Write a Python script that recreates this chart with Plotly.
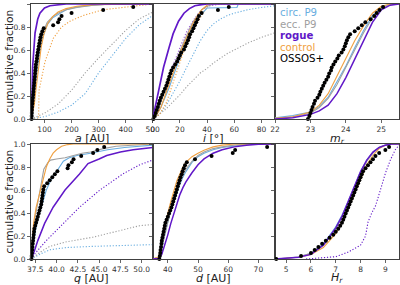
import numpy as np
import plotly.graph_objects as go

# ---------------- data ----------------
N_OBS = 38
# OSSOS+ sample values
ossos_a = [52, 52.5, 53, 53.5, 54, 55, 56, 57, 58, 59, 60, 61, 62, 63, 64, 65, 66, 67, 68, 70,
           72, 73, 75, 77, 79, 81, 83, 85, 88, 92, 97, 132, 150, 155, 163, 200, 317, 428]
ossos_i = [0.5, 1.5, 2.2, 3, 3.8, 4.5, 5.2, 6, 7, 8, 9, 10, 10.8, 11.5, 12.2, 13, 13.8, 15, 16.5, 18,
           19, 20, 21, 23, 24, 25, 26, 26.8, 27.5, 29, 30, 31, 32, 33, 34, 36, 48, 56]
ossos_m = [22.93, 22.97, 23.0, 23.03, 23.06, 23.1, 23.13, 23.2, 23.25, 23.28, 23.32, 23.36, 23.4,
           23.45, 23.5, 23.53, 23.58, 23.6, 23.65, 23.7, 23.76, 23.8, 23.88, 23.93, 23.97, 24.0,
           24.03, 24.07, 24.12, 24.25, 24.35, 24.45, 24.55, 24.7, 24.8, 24.87, 24.95, 25.05]
ossos_q = [37.05, 37.08, 37.11, 37.14, 37.17, 37.2, 37.24, 37.28, 37.32, 37.36, 37.4, 37.5, 37.6,
           37.7, 37.8, 37.9, 38.0, 38.1, 38.2, 38.25, 38.3, 38.35, 38.4, 38.45, 38.55, 38.9, 39.2,
           39.5, 39.8, 40.1, 41.3, 41.4, 41.8, 42.0, 42.9, 44.3, 44.8, 45.6]
ossos_d = [37.2, 37.35, 37.5, 37.6, 37.75, 37.9, 38.0, 38.2, 38.4, 38.6, 38.8, 39.0, 39.2, 39.6,
           40.0, 40.4, 40.8, 41.2, 41.5, 41.8, 42.1, 42.4, 42.7, 43.0, 43.3, 43.6, 43.9, 44.2,
           44.6, 44.9, 45.3, 45.7, 46.3, 49.0, 54.5, 61.5, 62.3, 72.9]
ossos_H = [4.6, 5.6, 6.0, 6.15, 6.3, 6.45, 6.6, 6.75, 6.9, 7.0, 7.1, 7.18, 7.25, 7.3, 7.35, 7.4,
           7.45, 7.5, 7.55, 7.6, 7.65, 7.7, 7.75, 7.8, 7.85, 7.9, 7.95, 8.0, 8.05, 8.1, 8.2, 8.3,
           8.4, 8.5, 8.6, 8.75, 9.0, 9.15]

# ---- panel a ----
a_rogue_x = [50, 53, 56, 60, 65, 75, 83, 100, 120, 180, 500]
a_rogue_y = [0, 0.1, 0.45, 0.62, 0.75, 0.87, 0.92, 0.965, 0.985, 1.0, 1.0]
a_grid = [50, 55, 60, 65, 70, 77, 85, 95, 110, 130, 150, 180, 220, 280, 350, 500]
a_circ_y = [0, 0.08, 0.17, 0.27, 0.38, 0.5, 0.62, 0.72, 0.82, 0.88, 0.91, 0.95, 0.975, 0.99, 1.0, 1.0]
a_ecc_y = [0, 0.1, 0.2, 0.3, 0.42, 0.55, 0.66, 0.76, 0.84, 0.89, 0.92, 0.95, 0.97, 0.99, 1, 1]
a_ctrl_x = [50, 56, 62, 68, 74, 80, 88, 98, 112, 130, 150, 180, 220, 280, 500]
a_ctrl_y = [0, 0.05, 0.12, 0.25, 0.38, 0.5, 0.63, 0.74, 0.83, 0.89, 0.93, 0.96, 0.98, 0.995, 1]
a_ctrl_int_x = [50, 78, 80, 90, 102, 132, 163, 194, 243, 317, 400, 460, 500]
a_ctrl_int_y = [0, 0, 0.25, 0.38, 0.5, 0.7, 0.8, 0.85, 0.9, 0.95, 0.97, 0.99, 1.0]
a_int_grid = [50, 100, 150, 200, 250, 300, 350, 400, 450, 500]
a_ecc_int_y = [0, 0.05, 0.13, 0.25, 0.4, 0.53, 0.65, 0.77, 0.87, 0.93]
a_circ_int_y = [0, 0.02, 0.06, 0.12, 0.22, 0.4, 0.55, 0.7, 0.82, 0.9]

# ---- panel i ----
i_rogue_x = [0, 2, 5, 8, 12, 15, 19, 23, 27, 31, 36, 40, 90]
i_rogue_y = [0, 0.12, 0.3, 0.45, 0.62, 0.74, 0.85, 0.92, 0.96, 0.985, 0.995, 1, 1]
i_ecc_x = [0, 3, 6, 9, 12, 15, 18, 21, 24, 27, 30, 33, 36, 40, 45, 90]
i_ecc_y = [0, 0.06, 0.15, 0.25, 0.36, 0.45, 0.53, 0.62, 0.7, 0.78, 0.85, 0.9, 0.95, 0.98, 1, 1]
i_circ_x = [0, 3, 6, 9, 12, 15, 18, 21, 24, 27, 30, 35, 40, 62, 63, 90]
i_circ_y = [0, 0.04, 0.1, 0.18, 0.27, 0.37, 0.47, 0.57, 0.66, 0.74, 0.82, 0.9, 0.965, 0.97, 1, 1]
i_ctrl_x = [0, 3, 6, 9, 12, 15, 18, 21, 24, 27, 30, 33, 36, 41, 90]
i_ctrl_y = [0, 0.04, 0.1, 0.2, 0.3, 0.4, 0.5, 0.6, 0.68, 0.76, 0.84, 0.9, 0.95, 1, 1]
i_int_grid = [0, 5, 10, 15, 20, 25, 30, 35, 40, 45, 50, 55, 60, 70, 80, 90]
i_circ_int_y = [0, 0.04, 0.12, 0.22, 0.33, 0.45, 0.57, 0.68, 0.77, 0.83, 0.87, 0.9, 0.92, 0.95, 0.97, 0.985]
i_ecc_int_y = [0, 0.04, 0.09, 0.15, 0.21, 0.28, 0.34, 0.4, 0.44, 0.49, 0.53, 0.57, 0.6, 0.66, 0.71, 0.75]
i_ctrl_int_x = [0, 5, 10, 14, 18, 22, 26, 30, 34, 38, 42, 90]
i_ctrl_int_y = [0, 0.04, 0.14, 0.28, 0.42, 0.56, 0.68, 0.78, 0.86, 0.94, 1, 1]
i_rogue_int_x = [0, 5, 10, 15, 20, 25, 30, 35, 40, 50, 90]
i_rogue_int_y = [0, 0.13, 0.3, 0.47, 0.62, 0.76, 0.86, 0.94, 0.98, 1, 1]

# ---- panel m_r ----
m_grid = [22, 22.5, 23, 23.25, 23.5, 23.75, 24, 24.25, 24.5, 24.75, 25, 25.25, 25.5]
m_ctrl_y = [0.005, 0.02, 0.06, 0.12, 0.22, 0.37, 0.52, 0.68, 0.81, 0.92, 0.98, 1, 1]
m_circ_y = [0.01, 0.03, 0.06, 0.11, 0.19, 0.32, 0.46, 0.62, 0.77, 0.9, 0.97, 1, 1]
m_ecc_y = [0.005, 0.02, 0.05, 0.1, 0.18, 0.3, 0.45, 0.6, 0.75, 0.88, 0.96, 0.995, 1]
m_rogue_y = [0, 0.01, 0.04, 0.07, 0.12, 0.22, 0.36, 0.52, 0.68, 0.84, 0.95, 0.99, 1]

# ---- panel q ----
q_ctrl_x = [37, 37.3, 37.6, 38.1, 38.5, 38.8, 39.2, 39.6, 40.0, 40.6, 41.3, 42, 51.3]
q_ctrl_y = [0, 0.31, 0.45, 0.6, 0.72, 0.8, 0.87, 0.92, 0.95, 0.98, 0.995, 1, 1]
q_ecc_x = [37, 37.3, 37.7, 38.0, 38.5, 39.0, 39.3, 40, 41, 42, 43, 44, 45.5, 47, 49, 51.3]
q_ecc_y = [0, 0.28, 0.45, 0.58, 0.78, 0.84, 0.86, 0.87, 0.88, 0.9, 0.92, 0.93, 0.96, 0.98, 0.99, 1]
q_circ_x = [37, 37.4, 37.8, 38.3, 38.8, 39.3, 39.8, 40.3, 40.8, 41.5, 42.4, 44, 46, 48, 51.3]
q_circ_y = [0, 0.2, 0.35, 0.48, 0.6, 0.68, 0.74, 0.8, 0.85, 0.88, 0.9, 0.92, 0.95, 0.97, 0.99]
q_rogue_x = [37, 37.4, 37.8, 38.6, 39.6, 41.0, 42.7, 43.7, 45, 45.9, 47.5, 49, 51.3]
q_rogue_y = [0, 0.07, 0.16, 0.31, 0.45, 0.6, 0.74, 0.83, 0.87, 0.9, 0.93, 0.95, 0.97]
q_rogue_int_x = [37, 37.5, 38.8, 40.8, 42.7, 45.1, 47.8, 49.8, 51.3]
q_rogue_int_y = [0, 0.05, 0.16, 0.31, 0.45, 0.6, 0.74, 0.82, 0.86]
q_int_grid = [37, 37.5, 38.3, 39.2, 41.2, 44.3, 47.4, 49.8, 51.3]
q_ecc_int_y = [0, 0.03, 0.07, 0.11, 0.15, 0.19, 0.25, 0.29, 0.3]
q_circ_int_y = [0, 0.02, 0.05, 0.08, 0.1, 0.11, 0.115, 0.12, 0.125]

# ---- panel d ----
d_grid = [35, 37, 38, 39, 40, 41, 42, 43, 44, 45, 46, 48, 50, 52, 55, 58, 62, 66, 70, 75.5]
d_ctrl_y = [0, 0.02, 0.13, 0.28, 0.4, 0.5, 0.6, 0.68, 0.74, 0.8, 0.84, 0.89, 0.92, 0.945, 0.975, 0.99, 1, 1, 1, 1]
d_circ_y = [0, 0.015, 0.1, 0.22, 0.32, 0.42, 0.5, 0.58, 0.65, 0.71, 0.76, 0.84, 0.89, 0.92, 0.95, 0.97, 0.985, 0.995, 1, 1]
d_ecc_y = [0, 0.015, 0.1, 0.22, 0.33, 0.43, 0.52, 0.6, 0.67, 0.73, 0.78, 0.85, 0.9, 0.93, 0.96, 0.975, 0.99, 0.997, 1, 1]
d_rogue_y = [0, 0.005, 0.04, 0.12, 0.21, 0.31, 0.4, 0.48, 0.56, 0.62, 0.67, 0.75, 0.82, 0.87, 0.92, 0.95, 0.975, 0.99, 0.998, 1]

# ---- panel H_r ----
H_grid = [4.55, 5, 5.5, 6, 6.5, 7, 7.25, 7.5, 7.75, 8, 8.25, 8.5, 8.75, 9, 9.25, 9.55]
H_rogue_y = [0, 0.005, 0.015, 0.04, 0.12, 0.27, 0.37, 0.5, 0.63, 0.76, 0.86, 0.93, 0.97, 0.99, 1, 1]
H_circ_y = [0, 0.005, 0.015, 0.05, 0.13, 0.28, 0.38, 0.5, 0.63, 0.76, 0.86, 0.93, 0.97, 0.99, 1, 1]
H_ecc_y = [0, 0.005, 0.02, 0.05, 0.12, 0.26, 0.36, 0.48, 0.61, 0.74, 0.85, 0.92, 0.97, 0.99, 1, 1]
H_ctrl_y = [0, 0.005, 0.015, 0.04, 0.1, 0.22, 0.32, 0.44, 0.57, 0.7, 0.82, 0.9, 0.96, 0.99, 1, 1]
H_rogue_int_x = [5.8, 6.5, 7.0, 7.5, 8.0, 8.2, 8.3, 8.45, 8.6, 8.8, 9.0, 9.2, 9.4, 9.55]
H_rogue_int_y = [0, 0.01, 0.02, 0.06, 0.12, 0.2, 0.32, 0.4, 0.46, 0.6, 0.745, 0.86, 0.95, 0.99]

legend_labels = ["circ. P9", "ecc. P9", "rogue", "control", "OSSOS+"]

# ---------------- styling ----------------
C_CIRC = "#6aaee0"
C_ECC = "#a0a0a0"
C_ROGUE = "#6118c8"
C_CTRL = "#f0a040"
C_OBS = "#000000"

W, H = 400, 285
FONT = "DejaVu Sans"

def px(x):
    return x / W

def py(y):
    return 1 - y / H

col_x = [(31, 152.7), (152.7, 275), (275, 399)]
row_y = [(4, 119), (144, 259)]

fig = go.Figure()

def add_line(ax, x, y, color, width=1.1, dash="solid"):
    xa = "x" if ax == 1 else f"x{ax}"
    ya = "y" if ax == 1 else f"y{ax}"
    fig.add_trace(go.Scatter(x=x, y=y, mode="lines", xaxis=xa, yaxis=ya,
                             line=dict(color=color, width=width, dash=dash),
                             showlegend=False, hoverinfo="skip"))

def add_obs(ax, vals):
    xa = "x" if ax == 1 else f"x{ax}"
    ya = "y" if ax == 1 else f"y{ax}"
    v = np.sort(np.array(vals, dtype=float))
    frac = np.arange(len(v)) / N_OBS
    fig.add_trace(go.Scatter(x=v, y=frac, mode="markers", xaxis=xa, yaxis=ya,
                             marker=dict(color=C_OBS, size=4, line=dict(width=0)),
                             showlegend=False, hoverinfo="skip", cliponaxis=False))

DOT = "1.2px,1.8px"
DW = 1.1
# panel 1: a
add_line(1, a_int_grid, a_circ_int_y, C_CIRC, DW, DOT)
add_line(1, a_int_grid, a_ecc_int_y, C_ECC, DW, DOT)
add_line(1, a_ctrl_int_x, a_ctrl_int_y, C_CTRL, DW, DOT)
add_line(1, a_grid, a_circ_y, C_CIRC)
add_line(1, a_grid, a_ecc_y, C_ECC)
add_line(1, a_ctrl_x, a_ctrl_y, C_CTRL)
add_line(1, a_rogue_x, a_rogue_y, C_ROGUE, 1.7)
add_obs(1, ossos_a)

# panel 2: i
add_line(2, i_int_grid, i_circ_int_y, C_CIRC, DW, DOT)
add_line(2, i_int_grid, i_ecc_int_y, C_ECC, DW, DOT)
add_line(2, i_ctrl_int_x, i_ctrl_int_y, C_CTRL, DW, DOT)
add_line(2, i_rogue_int_x, i_rogue_int_y, "#9a5ad0", DW, DOT)
add_line(2, i_circ_x, i_circ_y, C_CIRC)
add_line(2, i_ecc_x, i_ecc_y, C_ECC)
add_line(2, i_ctrl_x, i_ctrl_y, C_CTRL)
add_line(2, i_rogue_x, i_rogue_y, C_ROGUE, 1.7)
add_obs(2, ossos_i)

# panel 3: m_r
add_line(3, m_grid, m_circ_y, C_CIRC)
add_line(3, m_grid, m_ecc_y, C_ECC)
add_line(3, m_grid, m_ctrl_y, C_CTRL)
add_line(3, m_grid, m_rogue_y, C_ROGUE, 1.5)
add_obs(3, ossos_m)

# panel 4: q
add_line(4, q_int_grid, q_circ_int_y, C_CIRC, DW, DOT)
add_line(4, q_int_grid, q_ecc_int_y, C_ECC, DW, DOT)
add_line(4, q_rogue_int_x, q_rogue_int_y, C_ROGUE, DW, DOT)
add_line(4, q_circ_x, q_circ_y, C_CIRC)
add_line(4, q_ecc_x, q_ecc_y, C_ECC)
add_line(4, q_ctrl_x, q_ctrl_y, C_CTRL)
add_line(4, q_rogue_x, q_rogue_y, C_ROGUE, 1.5)
add_obs(4, ossos_q)

# panel 5: d
add_line(5, d_grid, d_circ_y, C_CIRC)
add_line(5, d_grid, d_ecc_y, C_ECC)
add_line(5, d_grid, d_ctrl_y, C_CTRL)
add_line(5, d_grid, d_rogue_y, C_ROGUE, 1.5)
add_obs(5, ossos_d)

# panel 6: H
add_line(6, H_rogue_int_x, H_rogue_int_y, C_ROGUE, DW, DOT)
add_line(6, H_grid, H_circ_y, C_CIRC)
add_line(6, H_grid, H_ecc_y, C_ECC)
add_line(6, H_grid, H_ctrl_y, C_CTRL)
add_line(6, H_grid, H_rogue_y, C_ROGUE, 1.5)
add_obs(6, ossos_H)

x_ranges = [[50, 500], [0, 90], [22, 25.5], [37, 51.3], [35, 75.5], [4.55, 9.55]]
x_ticks = [[100, 200, 300, 400, 500], [0, 20, 40, 60, 80], [22, 23, 24, 25],
           [37.5, 40.0, 42.5, 45.0, 47.5, 50.0], [40, 50, 60, 70], [5, 6, 7, 8, 9]]
x_fmt = [None, None, None, ".1f", None, None]
x_titles = ["<i>a</i> [AU]", "<i>i</i> [°]", "<i>m<sub>r</sub></i>",
            "<i>q</i> [AU]", "<i>d</i> [AU]", "<i>H<sub>r</sub></i>"]

AX_COL = "#404040"
TICKFONT = dict(family=FONT, size=7.5, color="#333")
layout = dict(width=W, height=H, margin=dict(l=0, r=0, t=0, b=0),
              paper_bgcolor="white", plot_bgcolor="white",
              font=dict(family=FONT, size=9, color="#222"), showlegend=False)
annotations = []
for k in range(6):
    r, c = divmod(k, 3)
    n = k + 1
    xk = "xaxis" if n == 1 else f"xaxis{n}"
    yk = "yaxis" if n == 1 else f"yaxis{n}"
    anchor_x = "x" if n == 1 else f"x{n}"
    anchor_y = "y" if n == 1 else f"y{n}"
    xd = [px(col_x[c][0]), px(col_x[c][1])]
    yd = [py(row_y[r][1]), py(row_y[r][0])]
    xa = dict(domain=xd, range=x_ranges[k], anchor=anchor_y, tickmode="array",
              tickvals=x_ticks[k], ticks="outside", ticklen=2.5, tickwidth=0.8,
              tickcolor=AX_COL, showline=True, linecolor=AX_COL, linewidth=1,
              mirror=True, showgrid=False, zeroline=False, tickangle=0,
              automargin=False, tickfont=TICKFONT)
    if x_fmt[k]:
        xa["tickformat"] = x_fmt[k]
    ya = dict(domain=yd, range=[0, 1.0], anchor=anchor_x, tickmode="array",
              tickvals=[0, 0.2, 0.4, 0.6, 0.8, 1.0], ticks="outside", ticklen=3,
              tickwidth=0.8, tickcolor=AX_COL, showline=True, linecolor=AX_COL,
              linewidth=1, mirror=True, showgrid=False, zeroline=False,
              tickformat=".1f", showticklabels=(c == 0), automargin=False,
              tickfont=TICKFONT)
    layout[xk] = xa
    layout[yk] = ya
    cx = (col_x[c][0] + col_x[c][1]) / 2
    ty = 138.5 if r == 0 else 278.3
    annotations.append(dict(text=x_titles[k], x=px(cx), y=py(ty), xref="paper", yref="paper",
                            showarrow=False, xanchor="center", yanchor="middle",
                            font=dict(family=FONT, size=11, color="#222")))

for r in range(2):
    cy = (row_y[r][0] + row_y[r][1]) / 2
    annotations.append(dict(text="cumulative fraction", x=px(9), y=py(cy), xref="paper",
                            yref="paper", showarrow=False, textangle=-90,
                            xanchor="center", yanchor="middle",
                            font=dict(family=FONT, size=10.7, color="#222")))

leg_colors = [C_CIRC, C_ECC, C_ROGUE, C_CTRL, C_OBS]
leg_y = [12.7, 24.2, 35.8, 47.4, 59.0]
for lab, colr, yy in zip(legend_labels, leg_colors, leg_y):
    txt = f"<b>{lab}</b>" if lab == "rogue" else lab
    annotations.append(dict(text=txt, x=px(278), y=py(yy), xref="paper", yref="paper",
                            showarrow=False, xanchor="left", yanchor="middle",
                            font=dict(family=FONT, size=10.2, color=colr)))

layout["annotations"] = annotations
fig.update_layout(**layout)
fig.write_html("out.html", config={"displayModeBar": False, "staticPlot": True},
               post_script="document.body.style.margin='0';document.body.style.padding='0';"
                           "document.body.style.overflow='hidden';")
